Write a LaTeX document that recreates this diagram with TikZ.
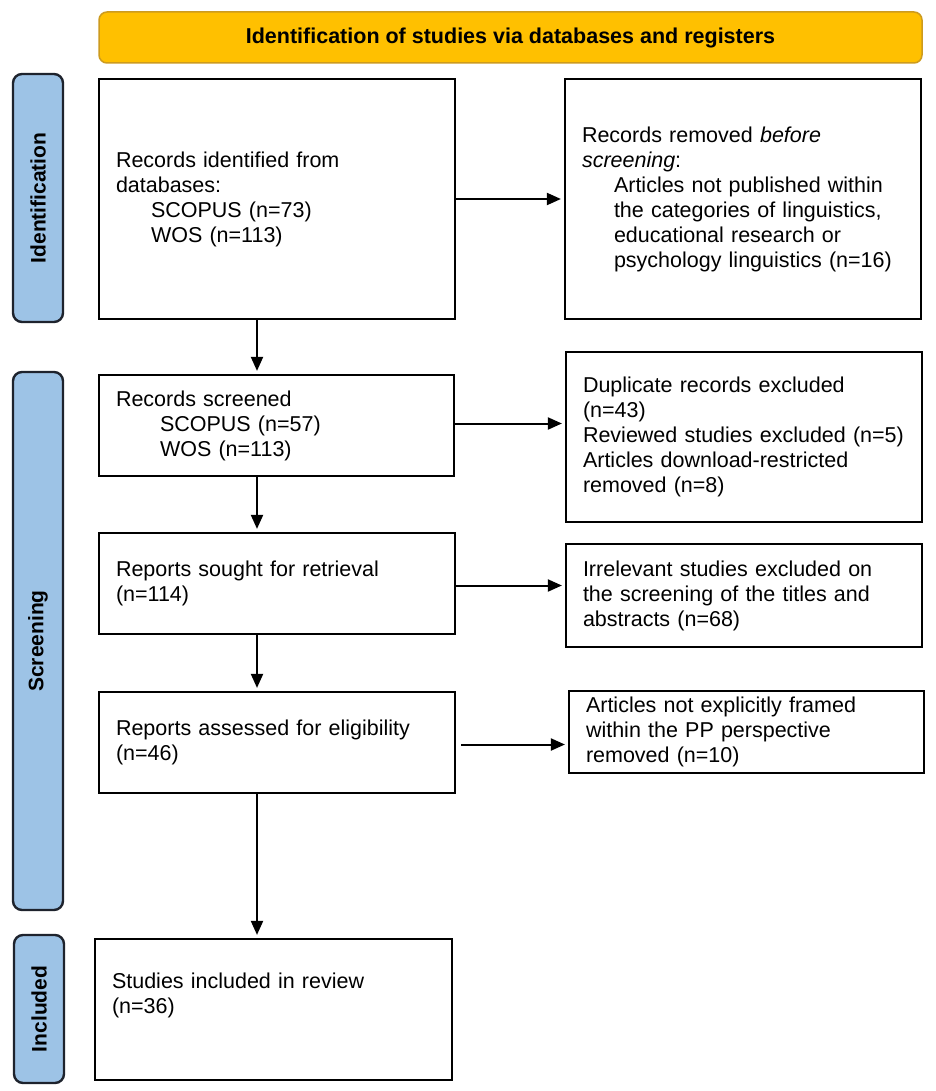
\documentclass[tikz,border=0pt]{standalone}
\usepackage{fontspec}
\setmainfont{Liberation Sans}
\usetikzlibrary{arrows.meta,calc}
\definecolor{bannerfill}{RGB}{255,192,0}
\definecolor{bannerdraw}{RGB}{205,155,30}
\definecolor{tabfill}{RGB}{157,195,230}
\definecolor{tabdraw}{RGB}{30,35,45}
\tikzset{
  banner/.style={draw=bannerdraw, line width=1.5pt, fill=bannerfill, rounded corners=8pt,
    minimum width=823pt, minimum height=51pt, inner sep=0pt,
    font=\fontsize{21.5}{25}\selectfont\bfseries},
  tab/.style={draw=tabdraw, line width=2.4pt, fill=tabfill, rounded corners=9pt,
    minimum width=50pt, inner sep=0pt},
  tablabel/.style={rotate=90, font=\fontsize{21}{25}\selectfont\bfseries, inner sep=0pt},
  box/.style={draw=black, line width=2.2pt, fill=white, inner xsep=17pt, inner ysep=0pt,
    align=left, font=\fontsize{21.5}{25}\selectfont},
  arr/.style={line width=2pt, -{Triangle[length=14pt,width=12pt]}, shorten >=3pt},
}
\begin{document}
\begin{tikzpicture}[x=1pt,y=-1pt]
\useasboundingbox (0,0) rectangle (935,1091);
\fill[white] (0,0) rectangle (935,1091);

\node[banner] (title) at (510.5,37.5) {Identification of studies via databases and registers};

\node[tab, minimum height=248pt] (tabI) at (38,198) {};
\node[tablabel] (tabIl) at (tabI.center) {Identification};
\node[tab, minimum height=538pt] (tabS) at (38,641) {};
\node[tablabel] (tabSl) at (tabS.center) {Screening};
\node[tab, minimum height=148pt] (tabN) at (39,1009) {};
\node[tablabel] (tabNl) at (tabN.center) {Included};

\node[box, text width=322pt, minimum height=240pt] (b1) at (277,199)
 {Records identified from\\ databases:\\ \hspace*{35pt}SCOPUS (n=73)\\ \hspace*{35pt}WOS (n=113)};
\node[box, text width=322pt, minimum height=240pt] (b2) at (743,199)
 {Records removed \textit{before}\\ \textit{screening}:\\
  \hspace*{32pt}Articles not published within\\
  \hspace*{32pt}the categories of linguistics,\\
  \hspace*{32pt}educational research or\\
  \hspace*{32pt}psychology linguistics (n=16)};

\node[box, text width=321pt, minimum height=101pt] (b3) at (276.5,425.5)
 {Records screened\\ \hspace*{44pt}SCOPUS (n=57)\\ \hspace*{44pt}WOS (n=113)};
\node[box, text width=322pt, minimum height=170pt] (b4) at (744,437)
 {Duplicate records excluded\\ (n=43)\\ Reviewed studies excluded (n=5)\\ Articles download-restricted\\ removed (n=8)};

\node[box, text width=322pt, minimum height=101pt] (b5) at (277,583.5)
 {Reports sought for retrieval\\ (n=114)};
\node[box, text width=322pt, minimum height=103pt] (b6) at (744,595.5)
 {Irrelevant studies excluded on\\ the screening of the titles and\\ abstracts (n=68)};

\node[box, text width=322pt, minimum height=101pt] (b7) at (277,742.5)
 {Reports assessed for eligibility\\ (n=46)};
\node[box, text width=321pt, minimum height=82pt] (b8) at (746.5,732)
 {Articles not explicitly framed\\ within the PP perspective\\ removed (n=10)};

\node[box, text width=323pt, minimum height=141pt] (b9) at (273.5,1009.5)
 {Studies included in review\\ (n=36)\\ \strut};

\coordinate (vx) at (257,0);
\draw[arr] (b1.south -| vx) -- (b3.north -| vx);
\draw[arr] (b3.south -| vx) -- (b5.north -| vx);
\draw[arr] (b5.south -| vx) -- (b7.north -| vx);
\draw[arr] (b7.south -| vx) -- (b9.north -| vx);

\draw[arr] (b1.east) -- (b2.west |- b1.east);
\draw[arr] ($(b3.east)+(0,-2)$) -- (b4.west |- {$(b3.east)+(0,-2)$});
\draw[arr] ($(b5.east)+(0,2)$) -- (b6.west |- {$(b5.east)+(0,2)$});
\draw[arr] ($(b7.east)+(5,2)$) -- (b8.west |- {$(b7.east)+(0,2)$});
\end{tikzpicture}
\end{document}
